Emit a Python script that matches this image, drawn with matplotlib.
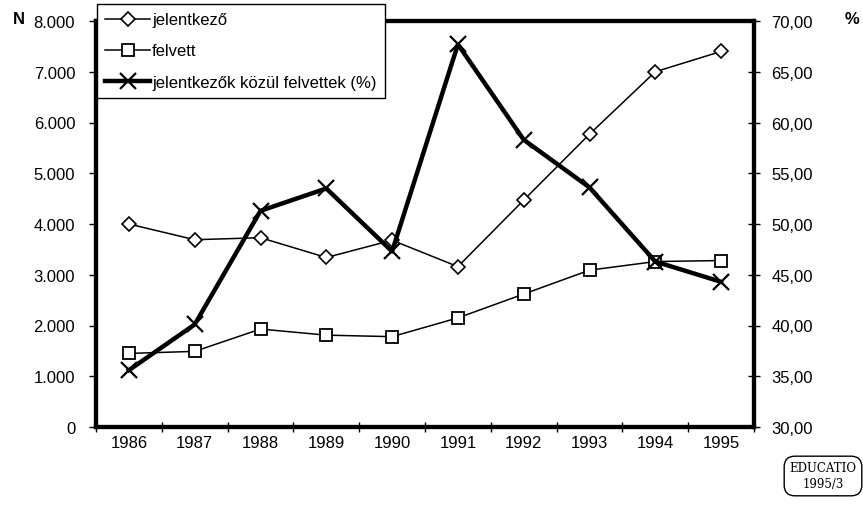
import matplotlib
matplotlib.use("Agg")
import matplotlib.pyplot as plt
from matplotlib.ticker import FuncFormatter, FixedLocator

years = ["1986", "1987", "1988", "1989", "1990", "1991", "1992", "1993", "1994", "1995"]
jelentkezo = [4000, 3690, 3730, 3340, 3680, 3160, 4470, 5770, 7000, 7400]
felvett = [1450, 1490, 1930, 1810, 1780, 2150, 2620, 3090, 3260, 3280]
arany = [35.6, 40.1, 51.3, 53.5, 47.3, 67.7, 58.3, 53.6, 46.3, 44.3]
left_ticks = [0, 1000, 2000, 3000, 4000, 5000, 6000, 7000, 8000]
right_ticks = [30, 35, 40, 45, 50, 55, 60, 65, 70]

plt.rcParams['font.family'] = ['Liberation Sans', 'DejaVu Sans']

fig = plt.figure(figsize=(8.63, 5.06), dpi=100)
ax = fig.add_axes([96/863, 1-428/506, (754-96)/863, (428-22)/506])
ax2 = ax.twinx()

x = list(range(len(years)))
l1, = ax.plot(x, jelentkezo, color='black', lw=1.1, marker='D', markersize=7,
              markerfacecolor='white', markeredgecolor='black', markeredgewidth=1.2,
              label='jelentkező')
l2, = ax.plot(x, felvett, color='black', lw=1.1, marker='s', markersize=9,
              markerfacecolor='white', markeredgecolor='black', markeredgewidth=1.3,
              label='felvett')
l3, = ax2.plot(x, arany, color='black', lw=3.2, marker='x', markersize=12,
               markeredgewidth=1.6, label='jelentkezők közül felvettek (%)')

ax.set_xlim(-0.5, len(years) - 0.5)
ax.set_ylim(0, 8000)
ax2.set_ylim(30, 70)
ax.set_xticks(x)
ax.set_xticklabels(years)
ax.xaxis.set_minor_locator(FixedLocator([i + 0.5 for i in range(-1, len(years))]))
ax.tick_params(axis='x', which='major', length=0, pad=6, labelsize=12)
ax.tick_params(axis='x', which='minor', length=7, width=1, direction='inout')
ax.set_yticks(left_ticks)
ax.yaxis.set_major_formatter(FuncFormatter(lambda v, p: f"{int(v):,}".replace(",", ".")))
ax.tick_params(axis='y', length=5, width=1, direction='out', labelsize=12, pad=10)
ax2.set_yticks(right_ticks)
ax2.yaxis.set_major_formatter(FuncFormatter(lambda v, p: f"{v:.2f}".replace(".", ",")))
ax2.tick_params(axis='y', length=9, width=1, direction='inout', labelsize=12, pad=8)

for a in (ax, ax2):
    for s in a.spines.values():
        s.set_linewidth(3)
        s.set_color('black')

fig.text(13/863, 1-20/506, "N", fontsize=12, fontweight='bold', ha='left', va='center')
fig.text(845/863, 1-20/506, "%", fontsize=12, fontweight='bold', ha='left', va='center')

leg = ax2.legend(handles=[l1, l2, l3], loc='upper left',
                 bbox_to_anchor=(97/863, 1-5/506), bbox_transform=fig.transFigure,
                 frameon=True, fancybox=False, edgecolor='black', framealpha=1,
                 fontsize=12, handlelength=2.7, handletextpad=0.1,
                 borderpad=0.5, labelspacing=0.97, borderaxespad=0)
leg.get_frame().set_linewidth(1)

fig.text(823/863, 1-477/506, "EDUCATIO\n1995/3", fontsize=8.5, family='DejaVu Serif',
         ha='center', va='center', linespacing=1.3,
         bbox=dict(boxstyle='round,pad=0.45,rounding_size=0.9', facecolor='white',
                   edgecolor='black', linewidth=1))

fig.savefig("out.png", dpi=100)
